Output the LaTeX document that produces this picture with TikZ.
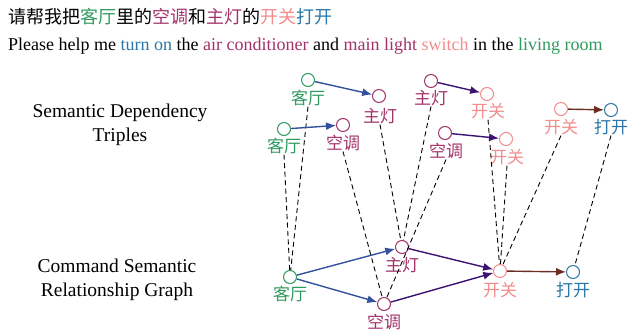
\documentclass[tikz,border=0pt]{standalone}
\usepackage{fontspec}
\setmainfont{Liberation Serif}
\newfontfamily\cjk{Noto Sans CJK SC}
\usetikzlibrary{arrows.meta}
\definecolor{cg}{HTML}{2E9A5E}
\definecolor{cm}{HTML}{A3326A}
\definecolor{cp}{HTML}{F28C8C}
\definecolor{cb}{HTML}{2A76A8}
\definecolor{ea}{HTML}{33509F}
\definecolor{eb}{HTML}{3B1272}
\definecolor{ec}{HTML}{6B2E22}
\tikzset{
 dot/.style={circle,draw=#1,fill=white,line width=1pt,minimum size=13pt,inner sep=0pt},
 lab/.style={text=#1,font=\cjk\fontsize{17}{17}\selectfont,inner sep=0.5pt},
 arr/.style={draw=#1,line width=1.4pt,-{Latex[length=10pt,width=8pt]}},
 dsh/.style={draw=black,line width=0.9pt,dash pattern=on 5pt off 3.5pt},
 side/.style={font=\fontsize{19.5}{24}\selectfont,align=center,inner sep=0pt},
}
\begin{document}
\begin{tikzpicture}[x=1pt,y=-1pt]
\path[use as bounding box] (0,0) rectangle (628,332);
% header
\node[anchor=west,inner sep=0pt,font=\cjk\fontsize{18}{18}\selectfont] (zh) at (8,17)
 {请帮我把\textcolor{cg}{客厅}里的\textcolor{cm}{空调}和\textcolor{cm}{主灯}的\textcolor{cp}{开关}\textcolor{cb}{打开}};
\node[anchor=west,inner sep=0pt,font=\fontsize{18}{18}\selectfont] (en) at (8,46)
 {Please help me \textcolor{cb}{turn on} the \textcolor{cm}{air conditioner} and \textcolor{cm}{main light} \textcolor{cp}{switch} in the \textcolor{cg}{living room}};
% side labels
\node[side] (s1) at (120,125) {Semantic Dependency\\Triples};
\node[side] (s2) at (117,280) {Command Semantic\\Relationship Graph};
% top triples
\node[dot=cg] (t1) at (308,80) {};  \node[lab=cg] (t1l) at (308,98) {客厅};
\node[dot=cm] (t2) at (379,96) {};  \node[lab=cm] (t2l) at (380,116) {主灯};
\node[dot=cg] (t3) at (284,129) {}; \node[lab=cg] (t3l) at (284,146) {客厅};
\node[dot=cm] (t4) at (343,125) {}; \node[lab=cm] (t4l) at (343,143) {空调};
\node[dot=cm] (t5) at (431,81) {};  \node[lab=cm] (t5l) at (431,98) {主灯};
\node[dot=cp] (t6) at (487,94) {};  \node[lab=cp] (t6l) at (488,111) {开关};
\node[dot=cm] (t7) at (445,133) {}; \node[lab=cm] (t7l) at (446,151) {空调};
\node[dot=cp] (t8) at (506,139) {}; \node[lab=cp] (t8l) at (507,157) {开关};
\node[dot=cp] (t9) at (561,109) {}; \node[lab=cp] (t9l) at (561,127) {开关};
\node[dot=cb] (t10) at (611,110) {}; \node[lab=cb] (t10l) at (611,127) {打开};
% bottom graph
\node[dot=cg] (g1) at (290,277) {}; \node[lab=cg] (g1l) at (290,294) {客厅};
\node[dot=cm] (g2) at (402,247) {}; \node[lab=cm] (g2l) at (402,265) {主灯};
\node[dot=cm] (g3) at (384,304) {}; \node[lab=cm] (g3l) at (384,322) {空调};
\node[dot=cp] (g4) at (500,271) {}; \node[lab=cp] (g4l) at (500,290) {开关};
\node[dot=cb] (g5) at (573,272) {}; \node[lab=cb] (g5l) at (573,290) {打开};
% dashed correspondences
\draw[dsh] (t1l.south) -- (g1);
\draw[dsh] (t3l.south) -- (g1);
\draw[dsh] (t4l.south) -- (g3);
\draw[dsh] (t2l.south) -- (g2);
\draw[dsh] (t5l.south) -- (g2);
\draw[dsh] (t7l.south) -- (g3);
\draw[dsh] (t6l.south) -- (g4);
\draw[dsh] (t8l.south) -- (g4);
\draw[dsh] (t9l.south) -- (g4);
\draw[dsh] (t10l.south) -- (g5);
% arrows top
\draw[arr=ea] (t1) -- (t2);
\draw[arr=ea] (t3) -- (t4);
\draw[arr=eb] (t5) -- (t6);
\draw[arr=eb] (t7) -- (t8);
\draw[arr=ec] (t9) -- (t10);
% arrows bottom
\draw[arr=ea] (g1) -- (g2);
\draw[arr=ea] (g1) -- (g3);
\draw[arr=eb] (g2) -- (g4);
\draw[arr=eb] (g3) -- (g4);
\draw[arr=ec] (g4) -- (g5);
\end{tikzpicture}
\end{document}
